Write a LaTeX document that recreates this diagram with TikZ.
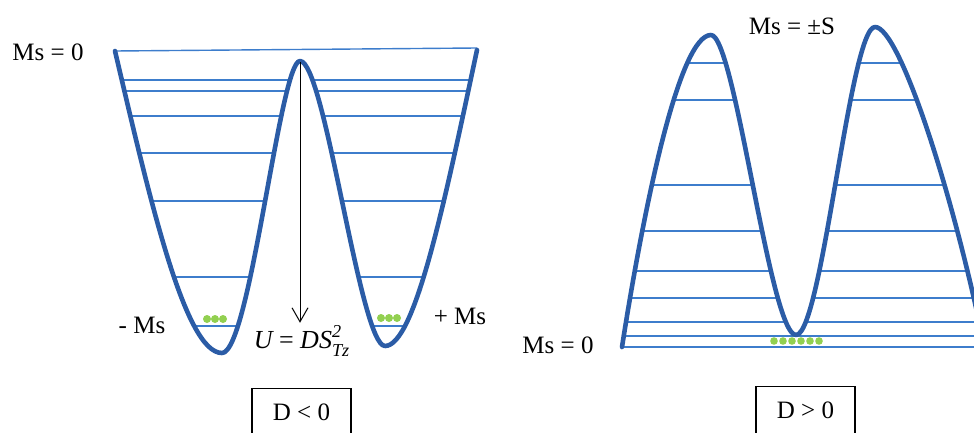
\documentclass[tikz,border=0pt]{standalone}
\usepackage{fontspec}
\usepackage{amsmath}
\setmainfont{Liberation Serif}
\usetikzlibrary{arrows.meta}
\definecolor{wellblue}{HTML}{2B5CA6}
\definecolor{levelblue}{HTML}{3D7DCC}
\definecolor{spingreen}{HTML}{92D050}
\tikzset{
  well/.style={line width=2.3pt, draw=wellblue, line join=round, line cap=round},
  level/.style={line width=0.7pt, draw=levelblue},
  spin/.style={fill=spingreen},
  lbl/.style={font=\fontsize{12.5}{15}\selectfont, inner sep=1pt},
  signbox/.style={draw, line width=0.6pt, anchor=north, minimum width=49.5pt,
    text height=8.5pt, text depth=30pt, inner ysep=7.5pt,
    font=\fontsize{12.5}{15}\selectfont}
}
\newcommand{\itx}[1]{\text{\itshape #1}}
\begin{document}
\begin{tikzpicture}[x=0.5pt,y=-0.5pt]
\useasboundingbox (0,0) rectangle (974,433);
% D < 0 : double well
\def\wpath{(115,51) .. controls (150,200) and (185,353) .. (222,353)
  .. controls (250,353) and (280,61) .. (300,61)
  .. controls (325,61) and (360,346) .. (385,346)
  .. controls (415,346) and (445,200) .. (477,50)}
\begin{scope}
  \clip \wpath -- cycle;
  \foreach \y in {80,91,116,153,201,277,326}
    \draw[level] (100,\y) -- (490,\y);
\end{scope}
\draw[level] (115,51) -- (477,48);
\draw[well] \wpath;
\foreach \x in {207,215,223}
  \fill[spin] (\x,319) circle (4);
\foreach \x in {381,389,397}
  \fill[spin] (\x,318) circle (4);
\coordinate (peak) at (300,62);
\node[font=\fontsize{13}{15}\selectfont, inner sep=1pt] (barrier) at (302,341)
  {\itx{U} = \itx{DS}$^{\itx{2}\vphantom{,}}_{\vphantom{I}\itx{Tz}}$};
\draw[-{Straight Barb[length=7pt,width=8pt]}, line width=0.5pt] (peak) -- (peak |- barrier.north);
\node[lbl] (mszero) at (48,52) {Ms = 0};
\node[lbl] (msneg) at (142,325) {- Ms};
\node[lbl] (mspos) at (460,316) {+ Ms};
\node[signbox] (dneg) at (301.5,388) {D < 0};
% D > 0 : double barrier
\def\bpath{(622,347) .. controls (645,200) and (680,35) .. (711,35)
  .. controls (735,35) and (770,335) .. (796,335)
  .. controls (822,335) and (850,27) .. (875,27)
  .. controls (900,27) and (955,200) .. (985,350)}
\begin{scope}
  \clip \bpath -- (985,352) -- (622,352) -- cycle;
  \foreach \y in {63,100,185,231,271,298,322,336}
    \draw[level] (600,\y) -- (990,\y);
\end{scope}
\draw[level] (622,347) -- (990,347);
\draw[well] \bpath;
\foreach \x in {774,783,792,801,810,819}
  \fill[spin] (\x,341) circle (3.8);
\node[lbl] (mspm) at (792,26) {Ms = ±S};
\node[lbl] (mszerob) at (558,345) {Ms = 0};
\node[signbox] (dpos) at (805.5,386) {D > 0};
\end{tikzpicture}
\end{document}
